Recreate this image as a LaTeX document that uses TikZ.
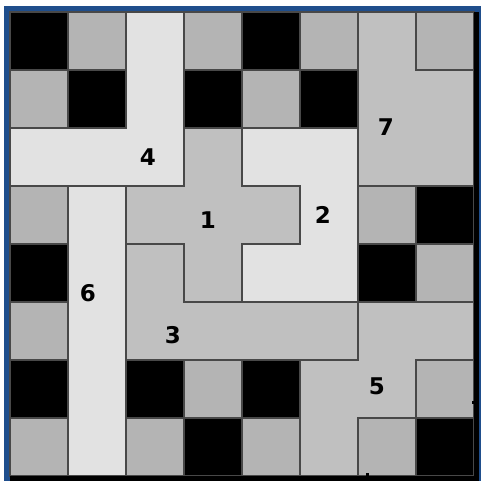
\documentclass[tikz,border=0pt]{standalone}
\usepackage{fontspec}
\setmainfont{Liberation Sans}
\newfontfamily\digitfont{DejaVu Sans}
\definecolor{frameblue}{HTML}{1F4E8C}
\definecolor{sqgray}{HTML}{B4B4B4}
\definecolor{piecemid}{HTML}{C0C0C0}
\definecolor{piecelight}{HTML}{E2E2E2}
\definecolor{edgegray}{HTML}{484848}
\tikzset{
  blacksq/.style={fill=black,draw=edgegray,line width=1.5pt},
  graysq/.style={fill=sqgray,draw=edgegray,line width=1.5pt},
  midpiece/.style={fill=piecemid,draw=edgegray,line width=1.5pt,line join=miter},
  lightpiece/.style={fill=piecelight,draw=edgegray,line width=1.5pt,line join=miter},
  numlabel/.style={font=\digitfont\bfseries\fontsize{23}{23}\selectfont,inner sep=0pt}
}
\begin{document}
\begin{tikzpicture}[x=1pt,y=-1pt]
\useasboundingbox[fill=white] (0,0) rectangle (481,483);
% blue frame
\fill[frameblue] (4,6) rectangle (10,481);
\fill[frameblue] (4,6) rectangle (481,12);
\fill[frameblue] (479,6) rectangle (481,481);
\begin{scope}[shift={(10,12)},x=58pt,y=-58pt]
% single squares
\foreach \c/\r in {0/0,4/0,1/1,3/1,5/1,7/3,0/4,6/4,0/6,2/6,4/6,3/7,7/7}
  \draw[blacksq] (\c,\r) rectangle ++(1,1);
\foreach \c/\r in {1/0,3/0,5/0,7/0,0/1,4/1,0/3,6/3,7/4,0/5,3/6,7/6,0/7,2/7,4/7,6/7}
  \draw[graysq] (\c,\r) rectangle ++(1,1);
% pieces
\draw[lightpiece] (2,0) -- (3,0) -- (3,3) -- (0,3) -- (0,2) -- (2,2) -- cycle;
\draw[midpiece] (6,0) -- (7,0) -- (7,1) -- (8,1) -- (8,3) -- (6,3) -- cycle;
\draw[midpiece] (3,2) -- (4,2) -- (4,3) -- (5,3) -- (5,4) -- (4,4) -- (4,5) -- (3,5) -- (3,4) -- (2,4) -- (2,3) -- (3,3) -- cycle;
\draw[lightpiece] (4,2) -- (6,2) -- (6,5) -- (4,5) -- (4,4) -- (5,4) -- (5,3) -- (4,3) -- cycle;
\draw[lightpiece] (1,3) -- (2,3) -- (2,8) -- (1,8) -- cycle;
\draw[midpiece] (2,4) -- (3,4) -- (3,5) -- (6,5) -- (6,6) -- (2,6) -- cycle;
\draw[midpiece] (6,5) -- (8,5) -- (8,6) -- (7,6) -- (7,7) -- (6,7) -- (6,8) -- (5,8) -- (5,6) -- (6,6) -- cycle;
\end{scope}
% thick black right/bottom edge
\fill[black] (474,12) rectangle (478.5,480.5);
\fill[black] (10,475.5) rectangle (478.5,480.5);
% small marks
\fill[black] (472,401) rectangle (475,404);
\fill[black] (366,473) rectangle (369,476);
% labels
\node[numlabel] (l4) at (148,157) {4};
\node[numlabel] (l1) at (208,220) {1};
\node[numlabel] (l2) at (323,215) {2};
\node[numlabel] (l7) at (386,127) {7};
\node[numlabel] (l6) at (88,293) {6};
\node[numlabel] (l3) at (173,335) {3};
\node[numlabel] (l5) at (377,386) {5};
\end{tikzpicture}
\end{document}
